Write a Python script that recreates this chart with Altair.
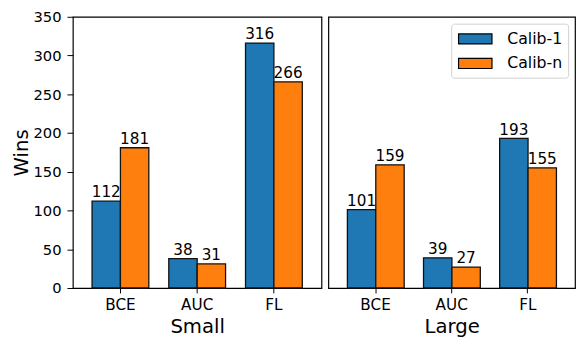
import altair as alt
import pandas as pd

losses = ["BCE", "AUC", "FL"]
series = ["Calib-1", "Calib-n"]
small_calib1 = [112, 38, 316]
small_calibn = [181, 31, 266]
large_calib1 = [101, 39, 193]
large_calibn = [159, 27, 155]
y_ticks = [0, 50, 100, 150, 200, 250, 300, 350]
colors = ["#1f77b4", "#ff7f0e"]
FONT = "DejaVu Sans"


def make_df(c1, cn):
    rows = []
    for l, a, b in zip(losses, c1, cn):
        rows.append({"loss": l, "series": series[0], "wins": a})
        rows.append({"loss": l, "series": series[1], "wins": b})
    return pd.DataFrame(rows)


def panel(df, title, show_y, show_legend, width):
    x = alt.X("loss:N", sort=losses,
              scale=alt.Scale(paddingInner=0.26, paddingOuter=0.25),
              axis=alt.Axis(title=title, labelAngle=0, labelFontSize=15.5, titleFontSize=20,
                            labelFont=FONT, titleFont=FONT, labelColor="black", titleColor="black",
                            tickColor="black", domain=False, tickSize=5, labelPadding=5,
                            titlePadding=4, titleFontWeight="normal"))
    if show_y:
        yaxis = alt.Axis(title="Wins", values=y_ticks, grid=False, labelFontSize=15,
                         titleFontSize=20, labelFont=FONT, titleFont=FONT, labelColor="black",
                         titleColor="black", tickColor="black", domain=False, tickSize=6,
                         labelPadding=6, titlePadding=2, titleFontWeight="normal")
    else:
        yaxis = None
    y = alt.Y("wins:Q", scale=alt.Scale(domain=[0, 350], nice=False), axis=yaxis)
    if show_legend:
        leg = alt.Legend(title=None, orient="top-right", labelFont=FONT, labelFontSize=16,
                         labelColor="black", symbolType="M-2,-0.6H2V0.6H-2Z", symbolSize=289,
                         symbolOffset=9, symbolStrokeColor="black", symbolStrokeWidth=1.2,
                         fillColor="white", strokeColor="#d0d0d0", cornerRadius=3, padding=6,
                         rowPadding=7, labelOffset=23, offset=7, symbolOpacity=1)
    else:
        leg = None
    color = alt.Color("series:N", scale=alt.Scale(domain=series, range=colors), legend=leg)
    base = alt.Chart(df).encode(
        x=x,
        xOffset=alt.XOffset("series:N", sort=series, scale=alt.Scale(paddingInner=0, paddingOuter=0)),
        y=y)
    bars = base.mark_bar(stroke="#111111", strokeWidth=1.3, opacity=1).encode(color=color)
    text = base.mark_text(baseline="bottom", dy=-1, fontSize=15.5, font=FONT, color="black").encode(
        text="wins:Q")
    return alt.layer(bars, text).properties(width=width, height=276)


left = panel(make_df(small_calib1, small_calibn), "Small", True, False, 253)
right = panel(make_df(large_calib1, large_calibn), "Large", False, True, 251)

chart = alt.hconcat(left, right, spacing=5).resolve_scale(
    color="independent").properties(
    padding={"left": 2, "top": -2, "right": 0, "bottom": 0}).configure_view(
    stroke="black", strokeWidth=1.2)

chart.save("out.html", embed_options={"renderer": "svg", "actions": False})
